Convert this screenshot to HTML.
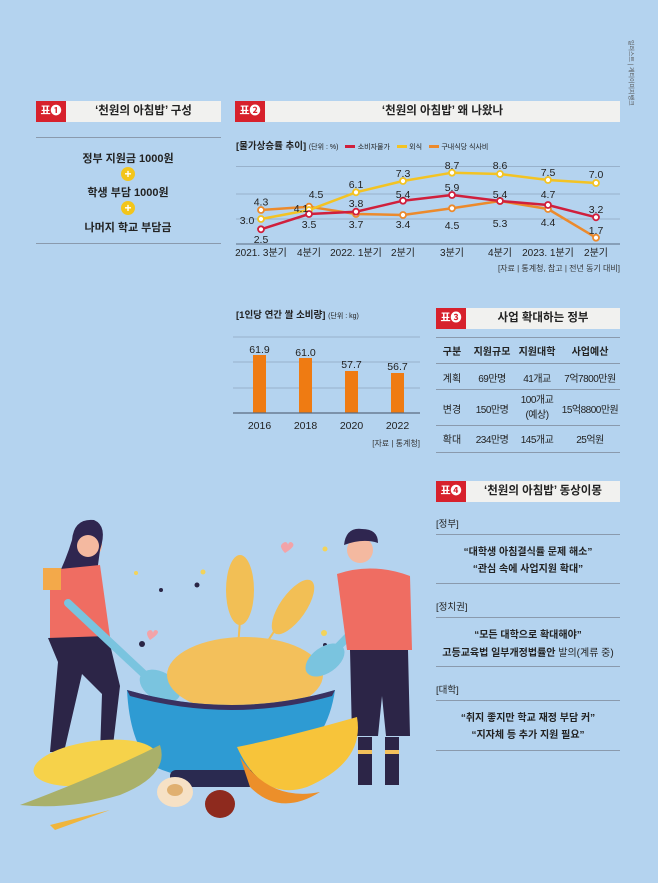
<!DOCTYPE html>
<html><head><meta charset="utf-8">
<style>
*{margin:0;padding:0;box-sizing:border-box}
body{width:658px;height:883px;background:#b4d3ef;position:relative;overflow:hidden;font-family:"Liberation Sans","Noto Sans CJK KR",sans-serif;color:#222}
.a{position:absolute;white-space:nowrap}
.hdr{position:absolute;height:21px;background:#f1f1ef}
.tag{position:absolute;left:0;top:0;width:30px;height:21px;background:#d7212c;color:#fff;font-size:11px;font-weight:bold;line-height:21px;text-align:center}
.ht{position:absolute;left:30px;right:0;top:0;line-height:21px;text-align:center;font-size:11.5px;font-weight:bold;color:#222}
.ln{position:absolute;height:1px;background:#8a9aad}
.c{transform:translateX(-50%);text-align:center}
.b{font-weight:bold}
</style></head><body>

<div class="a" style="left:636px;top:40px;font-size:6px;color:#555;transform:rotate(90deg);transform-origin:left top">일러스트 | 게티이미지뱅크</div>

<!-- 표1 -->
<div class="hdr" style="left:36px;top:101px;width:185px"><div class="tag">표❶</div><div class="ht">‘천원의 아침밥’ 구성</div></div>
<div class="ln" style="left:36px;top:137px;width:185px"></div>
<div class="a c b" style="left:128px;top:150px;font-size:11px">정부 지원금 1000원</div>
<div class="a" style="left:121px;top:167px;width:14px;height:14px;border-radius:50%;background:#f3c51b;color:#fff;font-size:12px;font-weight:bold;line-height:14px;text-align:center">+</div>
<div class="a c b" style="left:128px;top:184px;font-size:11px">학생 부담 1000원</div>
<div class="a" style="left:121px;top:201px;width:14px;height:14px;border-radius:50%;background:#f3c51b;color:#fff;font-size:12px;font-weight:bold;line-height:14px;text-align:center">+</div>
<div class="a c b" style="left:128px;top:219px;font-size:11px">나머지 학교 부담금</div>
<div class="ln" style="left:36px;top:243px;width:185px"></div>

<!-- 표2 -->
<div class="hdr" style="left:235px;top:101px;width:385px"><div class="tag">표❷</div><div class="ht">‘천원의 아침밥’ 왜 나왔나</div></div>
<div class="a" style="left:236px;top:138px;font-size:9.5px"><b>[물가상승률 추이]</b> <span style="font-size:7px">(단위 : %)</span>
<span style="display:inline-block;width:10px;height:3px;background:#d01f3c;vertical-align:middle;margin-left:4px"></span> <span style="font-size:7px">소비자물가</span>
<span style="display:inline-block;width:10px;height:3px;background:#f3c323;vertical-align:middle;margin-left:4px"></span> <span style="font-size:7px">외식</span>
<span style="display:inline-block;width:10px;height:3px;background:#ec8a2c;vertical-align:middle;margin-left:4px"></span> <span style="font-size:7px">구내식당 식사비</span></div>

<svg class="a" style="left:0;top:0" width="658" height="883">
<g stroke="#8fa6bf" stroke-width="0.8">
<line x1="236" y1="166.5" x2="620" y2="166.5"/><line x1="236" y1="194" x2="620" y2="194"/><line x1="236" y1="219" x2="620" y2="219"/></g>
<line x1="236" y1="244" x2="620" y2="244" stroke="#5a6b80" stroke-width="1"/>
<polyline fill="none" stroke="#ec8a2c" stroke-width="2.5" points="261,210 309,206.7 356,214 403,215 452,208.3 500,201 548,209 596,237.7"/>
<polyline fill="none" stroke="#f3c323" stroke-width="2.5" points="261,219 309,210 356,192.3 403,181 452,172.7 500,174 548,180 596,183"/>
<polyline fill="none" stroke="#d01f3c" stroke-width="2.5" points="261,229.3 309,214 356,211.7 403,200.7 452,195 500,201 548,205 596,217.3"/>
<g fill="#fff" stroke-width="1.8">
<g stroke="#ec8a2c"><circle cx="261" cy="210" r="3"/><circle cx="309" cy="206.7" r="3"/><circle cx="356" cy="214" r="3"/><circle cx="403" cy="215" r="3"/><circle cx="452" cy="208.3" r="3"/><circle cx="500" cy="201" r="3"/><circle cx="548" cy="209" r="3"/><circle cx="596" cy="237.7" r="3"/></g>
<g stroke="#f3c323"><circle cx="261" cy="219" r="3"/><circle cx="309" cy="210" r="3"/><circle cx="356" cy="192.3" r="3"/><circle cx="403" cy="181" r="3"/><circle cx="452" cy="172.7" r="3"/><circle cx="500" cy="174" r="3"/><circle cx="548" cy="180" r="3"/><circle cx="596" cy="183" r="3"/></g>
<g stroke="#d01f3c"><circle cx="261" cy="229.3" r="3"/><circle cx="309" cy="214" r="3"/><circle cx="356" cy="211.7" r="3"/><circle cx="403" cy="200.7" r="3"/><circle cx="452" cy="195" r="3"/><circle cx="500" cy="201" r="3"/><circle cx="548" cy="205" r="3"/><circle cx="596" cy="217.3" r="3"/></g>
</g>
<g font-family="Liberation Sans,sans-serif" font-size="10.5" fill="#222" text-anchor="middle">
<text x="261" y="205.5">4.3</text><text x="247" y="224">3.0</text><text x="261" y="243">2.5</text>
<text x="301" y="212">4.1</text><text x="316" y="198">4.5</text><text x="309" y="228">3.5</text>
<text x="356" y="188">6.1</text><text x="356" y="207">3.8</text><text x="356" y="228">3.7</text>
<text x="403" y="177">7.3</text><text x="403" y="198">5.4</text><text x="403" y="228">3.4</text>
<text x="452" y="169">8.7</text><text x="452" y="191">5.9</text><text x="452" y="229">4.5</text>
<text x="500" y="169">8.6</text><text x="500" y="198">5.4</text><text x="500" y="227">5.3</text>
<text x="548" y="176">7.5</text><text x="548" y="198">4.7</text><text x="548" y="226">4.4</text>
<text x="596" y="178">7.0</text><text x="596" y="213">3.2</text><text x="596" y="234">1.7</text>
</g>
<g font-family="Liberation Sans,Noto Sans CJK KR,sans-serif" font-size="10" fill="#222" text-anchor="middle">
<text x="261" y="256">2021. 3분기</text><text x="309" y="256">4분기</text><text x="356" y="256">2022. 1분기</text><text x="403" y="256">2분기</text><text x="452" y="256">3분기</text><text x="500" y="256">4분기</text><text x="548" y="256">2023. 1분기</text><text x="596" y="256">2분기</text>
</g>

<!-- bar chart -->
<g stroke="#8fa6bf" stroke-width="0.8"><line x1="233" y1="337" x2="420" y2="337"/><line x1="233" y1="362" x2="420" y2="362"/><line x1="233" y1="388" x2="420" y2="388"/></g>
<g fill="#ef7b12"><rect x="253" y="355" width="13" height="58"/><rect x="299" y="358" width="13" height="55"/><rect x="345" y="371" width="13" height="42"/><rect x="391" y="373" width="13" height="40"/></g>
<line x1="233" y1="413" x2="420" y2="413" stroke="#5a6b80" stroke-width="1.2"/>
<g font-family="Liberation Sans,sans-serif" font-size="10.5" fill="#222" text-anchor="middle">
<text x="259.5" y="353">61.9</text><text x="305.5" y="356">61.0</text><text x="351.5" y="368">57.7</text><text x="397.5" y="370">56.7</text>
<text x="259.5" y="429">2016</text><text x="305.5" y="429">2018</text><text x="351.5" y="429">2020</text><text x="397.5" y="429">2022</text>
</g>

<!-- illustration -->
<g>
<circle cx="136" cy="573" r="2" fill="#f3d35a"/><circle cx="203" cy="572" r="2.5" fill="#f3d35a"/><circle cx="197" cy="585" r="2.5" fill="#2a2545"/><circle cx="161" cy="590" r="2" fill="#2a2545"/><circle cx="142" cy="644" r="3" fill="#2a2545"/><circle cx="324" cy="633" r="3" fill="#f3d35a"/><circle cx="325" cy="645" r="2" fill="#2a2545"/><circle cx="325" cy="549" r="2.5" fill="#f3d35a"/>
<path d="M150 640 q-6-8 0-10 q3 0 3 4 q0-4 3-4 q6 2 -6 10z" fill="#f3a3a8"/>
<path d="M285 553 q-8-8 0-11 q3 0 3 4 q0-4 3-4 q7 3 -6 11z" fill="#f3a3a8"/>
<!-- wheat -->
<ellipse cx="240" cy="590" rx="14" ry="35" fill="#f2bf55"/><line x1="240" y1="620" x2="238" y2="648" stroke="#f2bf55" stroke-width="2"/>
<ellipse cx="293" cy="607" rx="13" ry="32" fill="#f2bf55" transform="rotate(35 293 607)"/><line x1="275" y1="630" x2="262" y2="650" stroke="#f2bf55" stroke-width="2"/>
<!-- woman -->
<circle cx="88" cy="545" r="14" fill="#f2b39a"/><path d="M72 540 q2-22 22-20 q14 6 6 30 q-4 30 -4 30 l-40 0 q10-20 16-40z" fill="#2f2650"/>
<circle cx="88" cy="546" r="11" fill="#f4b9a0"/>
<path d="M50 570 l50 -5 l10 72 l-60 2z" fill="#ef6d62"/>
<rect x="43" y="568" width="18" height="22" fill="#f3a94a"/>
<path d="M48 638 l60 -2 l12 50 l-8 68 l-12 0 l2-60 l-20-20 l-18 78 l-14 0 l8-90z" fill="#2c2547"/>
<!-- spoon woman -->
<line x1="68" y1="603" x2="145" y2="675" stroke="#7ac4df" stroke-width="8" stroke-linecap="round"/>
<ellipse cx="160" cy="686" rx="22" ry="14" fill="#7ac4df" transform="rotate(30 160 686)"/>
<!-- grain -->
<ellipse cx="245" cy="675" rx="78" ry="38" fill="#f3c05b"/>
<!-- bowl -->
<path d="M127 690 q105 30 208 0 q-10 70 -80 87 q-60 8 -100 -10 q-25 -20 -28 -77z" fill="#2e9bd3"/>
<rect x="170" y="770" width="87" height="17" rx="6" fill="#2a2a50"/>
<path d="M127 690 q105 30 208 0 l-3 6 q-100 28 -202 0z" fill="#3a3160"/>
<!-- man spoon -->
<line x1="400" y1="583" x2="335" y2="650" stroke="#7ac4df" stroke-width="8" stroke-linecap="round"/>
<ellipse cx="325" cy="660" rx="22" ry="13" fill="#7ac4df" transform="rotate(-35 325 660)"/>
<!-- man -->
<circle cx="360" cy="550" r="13" fill="#f4b9a0"/><path d="M344 545 q2-18 18-16 q16 0 16 14 q-15-5 -34 2z" fill="#2f2650"/>
<path d="M337 574 q35-12 73 2 l2 74 l-65 0z" fill="#ef6d62"/>
<path d="M350 650 l58 0 l2 86 l-24 0 l-4-40 l-4 40 l-26 0z" fill="#2c2547"/>
<rect x="358" y="737" width="14" height="48" fill="#2c2547"/><rect x="385" y="737" width="14" height="48" fill="#2c2547"/>
<rect x="358" y="750" width="14" height="4" fill="#f3c05b"/><rect x="385" y="750" width="14" height="4" fill="#f3c05b"/>
<!-- corn -->
<ellipse cx="95" cy="763" rx="62" ry="22" fill="#f6d24a" transform="rotate(-8 95 763)"/>
<path d="M20 805 q80 -30 140 -60 q10 30 -40 50 q-50 15 -100 10z" fill="#a9b06a"/>
<path d="M50 825 l60 -15 l-55 20z" fill="#f0b53c"/>
<!-- banana -->
<path d="M237 747 q50 -10 120 -30 q8 45 -50 70 q-45 15 -70 -40z" fill="#f7c43a"/>
<path d="M240 757 q30 45 80 35 q-40 25 -70 -5z" fill="#ec8f2a"/>
<!-- nuts -->
<ellipse cx="175" cy="792" rx="18" ry="15" fill="#f6e1c5"/><ellipse cx="175" cy="790" rx="8" ry="6" fill="#e0b070"/>
<ellipse cx="220" cy="804" rx="15" ry="14" fill="#8e2a1e"/>
</g>
</svg>
<div class="a" style="left:620px;top:263px;transform:translateX(-100%);font-size:8px;color:#333">[자료 | 통계청, 참고 | 전년 동기 대비]</div>

<div class="a" style="left:236px;top:307px;font-size:9.5px"><b>[1인당 연간 쌀 소비량]</b> <span style="font-size:7px">(단위 : kg)</span></div>
<div class="a" style="left:420px;top:438px;transform:translateX(-100%);font-size:8px;color:#333">[자료 | 통계청]</div>

<!-- 표3 -->
<div class="hdr" style="left:436px;top:308px;width:184px"><div class="tag">표❸</div><div class="ht">사업 확대하는 정부</div></div>
<div class="ln" style="left:436px;top:337px;width:184px"></div>
<div class="ln" style="left:436px;top:363px;width:184px"></div>
<div class="ln" style="left:436px;top:389px;width:184px"></div>
<div class="ln" style="left:436px;top:425px;width:184px"></div>
<div class="ln" style="left:436px;top:452px;width:184px"></div>
<div class="a c b" style="left:452px;top:343px;font-size:10px">구분</div>
<div class="a c b" style="left:492px;top:343px;font-size:10px">지원규모</div>
<div class="a c b" style="left:537px;top:343px;font-size:10px">지원대학</div>
<div class="a c b" style="left:590px;top:343px;font-size:10px">사업예산</div>
<div class="a c" style="left:452px;top:370px;font-size:10px">계획</div>
<div class="a c" style="left:492px;top:370px;font-size:10px;letter-spacing:-0.5px">69만명</div>
<div class="a c" style="left:537px;top:370px;font-size:10px;letter-spacing:-0.5px">41개교</div>
<div class="a c" style="left:590px;top:370px;font-size:10px;letter-spacing:-0.5px">7억7800만원</div>
<div class="a c" style="left:452px;top:401px;font-size:10px">변경</div>
<div class="a c" style="left:492px;top:401px;font-size:10px;letter-spacing:-0.5px">150만명</div>
<div class="a c" style="left:537px;top:393px;font-size:10px;letter-spacing:-0.5px;line-height:15px">100개교<br>(예상)</div>
<div class="a c" style="left:590px;top:401px;font-size:10px;letter-spacing:-0.5px">15억8800만원</div>
<div class="a c" style="left:452px;top:431px;font-size:10px">확대</div>
<div class="a c" style="left:492px;top:431px;font-size:10px;letter-spacing:-0.5px">234만명</div>
<div class="a c" style="left:537px;top:431px;font-size:10px;letter-spacing:-0.5px">145개교</div>
<div class="a c" style="left:590px;top:431px;font-size:10px;letter-spacing:-0.5px">25억원</div>

<!-- 표4 -->
<div class="hdr" style="left:436px;top:481px;width:184px"><div class="tag">표❹</div><div class="ht">‘천원의 아침밥’ 동상이몽</div></div>
<div class="a" style="left:436px;top:516px;font-size:9.5px">[정부]</div>
<div class="ln" style="left:436px;top:534px;width:184px"></div>
<div class="a c b" style="left:528px;top:543px;font-size:10px">“대학생 아침결식률 문제 해소”</div>
<div class="a c b" style="left:528px;top:560px;font-size:10px">“관심 속에 사업지원 확대”</div>
<div class="ln" style="left:436px;top:583px;width:184px"></div>
<div class="a" style="left:436px;top:599px;font-size:9.5px">[정치권]</div>
<div class="ln" style="left:436px;top:617px;width:184px"></div>
<div class="a c b" style="left:528px;top:626px;font-size:10px">“모든 대학으로 확대해야”</div>
<div class="a c b" style="left:528px;top:644px;font-size:10px">고등교육법 일부개정법률안 <span style="font-weight:normal">발의(계류 중)</span></div>
<div class="ln" style="left:436px;top:666px;width:184px"></div>
<div class="a" style="left:436px;top:682px;font-size:9.5px">[대학]</div>
<div class="ln" style="left:436px;top:700px;width:184px"></div>
<div class="a c b" style="left:528px;top:709px;font-size:10px">“취지 좋지만 학교 재정 부담 커”</div>
<div class="a c b" style="left:528px;top:726px;font-size:10px">“지자체 등 추가 지원 필요”</div>
<div class="ln" style="left:436px;top:750px;width:184px"></div>
</body></html>
